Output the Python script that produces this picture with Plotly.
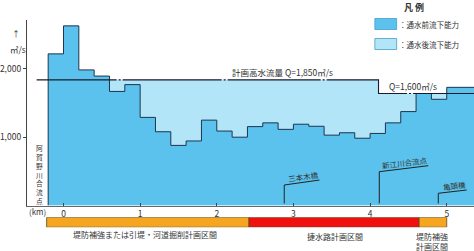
import plotly.graph_objects as go

# ---------------- data ----------------
km_start = [-0.2, 0.0, 0.2, 0.4, 0.6, 0.8, 1.0, 1.2, 1.4, 1.6, 1.8, 2.0, 2.2, 2.4,
            2.6, 2.8, 3.0, 3.2, 3.4, 3.6, 3.8, 4.0, 4.2, 4.4, 4.6, 4.8, 5.0]
km_end = 5.36
before_capacity = [2220, 2630, 1985, 1895, 1670, 1770, 1290, 1080, 880, 945, 1250,
                   1090, 1000, 1155, 1210, 1115, 1190, 1160, 1030, 1065, 985, 1055,
                   1210, 1375, 1640, 1555, 1730]

plan_q_km = [-0.35, 4.11, 5.36]
plan_q = [1840, 1640, 1640]
fill_q_km = [-0.2, 4.11, 5.36]

x_ticks = [0, 1, 2, 3, 4, 5]
x_ticktext = ["0", "1", "2", "3", "4", "5"]
y_ticks = [1000, 2000]
y_ticktext = ["1,000", "2,000"]

sections = ["堤防補強または引堤・河道掘削計画区間", "捷水路計画区間", "堤防補強<br>計画区間"]
section_start = [-0.22, 2.42, 4.64]
section_end = [2.42, 4.64, 5.0]
section_colors = ["#F6A51E", "#F01010", "#F6A51E"]

landmarks = ["三本木橋", "新江川合流点", "亀頭橋"]
landmark_km = [2.88, 4.12, 4.89]

# ---------------- styling ----------------
W, H = 474, 251
DARK = "#5AC2EC"
LIGHT = "#B2E5F8"
OUTLINE = "#1E3550"
TXT = "#333333"
FONT = "Noto Sans CJK JP"

px0, pxk = 60.0, 77.3          # pixel of km 0 and pixels per km
x_range = [(23 - px0) / pxk, (W - px0) / pxk]
y_top = (205.5 - 20) / 68.3 * 1000


def py(p):
    return 1 - p / H


def ann(x, y, text, size, xref="paper", yref="paper", xanchor="center", angle=0):
    fig.add_annotation(x=x, y=y, xref=xref, yref=yref, text=text, showarrow=False,
                       xanchor=xanchor, yanchor="middle", textangle=angle,
                       font=dict(size=size, color=TXT, family=FONT))


fig = go.Figure()

# after improvement (plan) capacity fill
fig.add_trace(go.Scatter(
    x=fill_q_km, y=plan_q, mode="lines", line=dict(shape="hv", width=0),
    fill="tozeroy", fillcolor=LIGHT, hoverinfo="skip", showlegend=False))

# before capacity (step profile)
xs = [km_start[0]] + km_start + [km_end]
ys = [0] + before_capacity + [before_capacity[-1]]
fig.add_trace(go.Scatter(
    x=xs, y=ys, mode="lines", line=dict(shape="hv", width=1, color=OUTLINE),
    fill="tozeroy", fillcolor=DARK, showlegend=False))

# plan discharge line
fig.add_trace(go.Scatter(
    x=plan_q_km, y=plan_q, mode="lines",
    line=dict(shape="hv", width=1.1, color="#1a1a2a",
              dash="80px,2px,2px,2px,99px,2px,2px,2px,93px,2px,2px,2px,94px,2px,2px,2px,300px"),
    showlegend=False))

# landmark leader lines
lm_geom = [(0.46, 300, 373, 425, -8), (0.64, 495, 583, 625, -7), (0.37, 179, 227, 290, -6)]
for name, k, (dx, yv, ys2, yt, ang) in zip(landmarks, landmark_km, lm_geom):
    fig.add_trace(go.Scatter(
        x=[k, k, k + dx], y=[30, yv, ys2], mode="lines",
        line=dict(color="#222222", width=1), showlegend=False))
    ann(k + dx / 2 + 0.02, yt, name, 7.5, xref="x", yref="y", angle=ang)

# section bar
fig.add_trace(go.Bar(
    y=[0] * len(sections), x=[e - s for s, e in zip(section_start, section_end)],
    base=section_start, orientation="h", width=1,
    marker=dict(color=section_colors, line=dict(color="#5a4a20", width=0.8)),
    xaxis="x", yaxis="y2", showlegend=False, hoverinfo="skip"))

sec_lab_pos = [(142.5, 234), (334, 236), (432, 241)]
for name, (lx, ly) in zip(sections, sec_lab_pos):
    ann((lx - px0) / pxk, py(ly), name, 8, xref="x")

# text annotations
ann((281 - px0) / pxk, py(72), "計画高水流量 Q=1,850㎥/s", 8.5, xref="x")
ann((412 - px0) / pxk, py(86), "Q=1,600㎥/s", 8.5, xref="x")
ann(12 / W, py(33), "↑", 8)
ann(14 / W, py(49), "㎥/s", 8.5)
ann(34 / W, py(211), "(km)", 8)
ann(35.5 / W, py(174), "<br>".join("阿賀野川合流点"), 6.8)

# legend (凡例)
ann(413 / W, py(8), "<b>凡 例</b>", 9)
for (y0, y1), col, lab in [((18.5, 29.5), DARK, "：通水前流下能力"),
                           ((38.5, 49.5), LIGHT, "：通水後流下能力")]:
    fig.add_shape(type="rect", xref="paper", yref="paper",
                  x0=374 / W, x1=396 / W, y0=py(y1), y1=py(y0),
                  fillcolor=col, line=dict(color="#4a9cc8", width=0.8))
    ann(396 / W, py((y0 + y1) / 2), lab, 7.5, xanchor="left")

fig.update_layout(
    width=W, height=H, margin=dict(l=0, r=0, t=0, b=0),
    paper_bgcolor="white", plot_bgcolor="white",
    barmode="overlay",
    font=dict(family=FONT, color=TXT),
    xaxis=dict(domain=[23 / W, 1], range=x_range, tickvals=x_ticks, ticktext=x_ticktext,
               ticks="inside", ticklen=3, tickcolor="#444", showgrid=False,
               zeroline=False, showline=True, linecolor="#666", linewidth=1,
               tickfont=dict(size=8.5, color=TXT, family=FONT), anchor="y"),
    yaxis=dict(domain=[py(205.5), py(20)], range=[0, y_top],
               tickvals=y_ticks, ticktext=y_ticktext, ticks="outside", ticklen=3,
               tickcolor="#444", showgrid=False, zeroline=False, showline=True,
               linecolor="#444", linewidth=1,
               tickfont=dict(size=8.5, color=TXT, family=FONT), anchor="x"),
    yaxis2=dict(domain=[py(227.3), py(217.3)], range=[-0.5, 0.5], visible=False,
                anchor="x"),
)

fig.write_html("out.html")
